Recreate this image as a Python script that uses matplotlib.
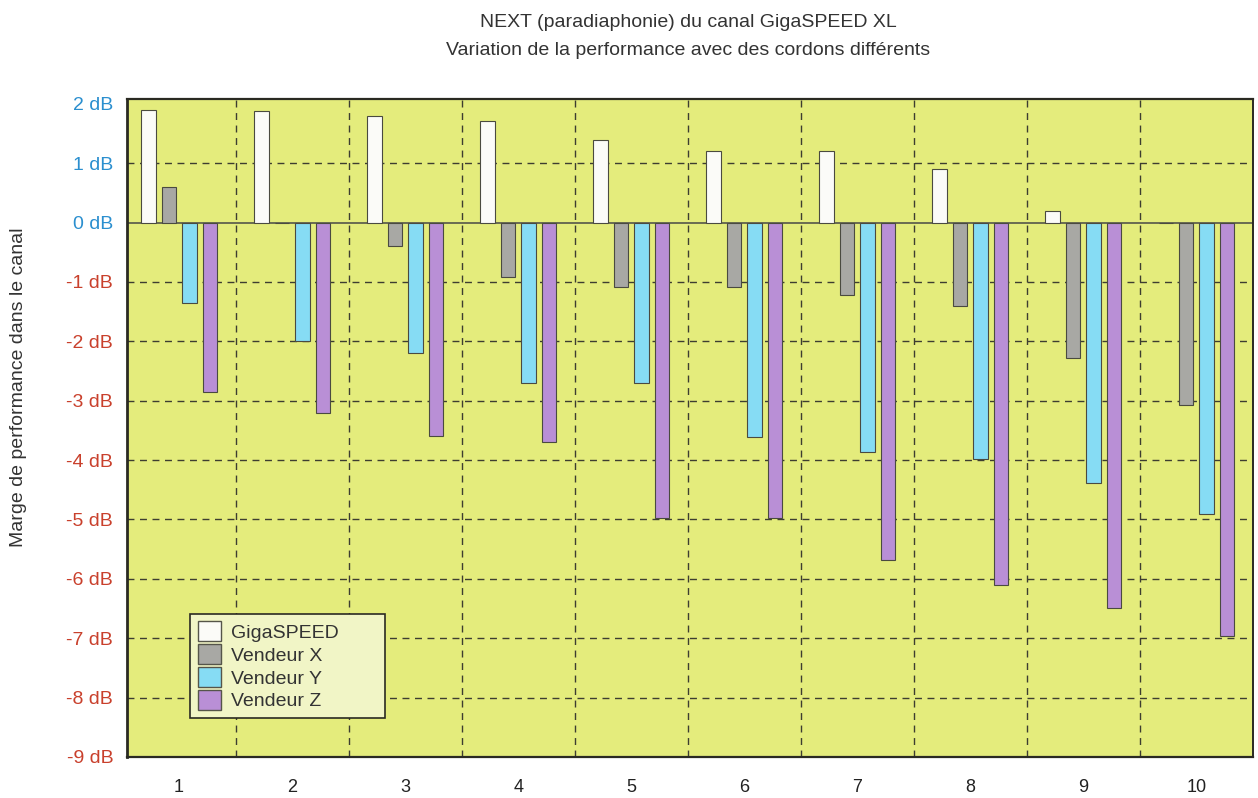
import numpy as np
import matplotlib.pyplot as plt
from matplotlib.patches import Patch

plt.rcParams['font.family'] = ['Liberation Sans', 'DejaVu Sans']

# data (dB)
groups = [1, 2, 3, 4, 5, 6, 7, 8, 9, 10]
gigaspeed = [1.90, 1.88, 1.80, 1.71, 1.39, 1.20, 1.21, 0.90, 0.20, 0.0]
vendeur_x = [0.60, 0.0, -0.40, -0.91, -1.08, -1.08, -1.22, -1.40, -2.28, -3.08]
vendeur_y = [-1.35, -1.99, -2.19, -2.71, -2.70, -3.61, -3.87, -3.98, -4.39, -4.90]
vendeur_z = [-2.86, -3.20, -3.59, -3.70, -4.98, -4.98, -5.68, -6.10, -6.49, -6.97]
series_names = ['GigaSPEED', 'Vendeur X', 'Vendeur Y', 'Vendeur Z']
colors = ['#fbfbf8', '#a8a8a4', '#86dcf4', '#b98fd6']
yticks = [2, 1, 0, -1, -2, -3, -4, -5, -6, -7, -8, -9]

fig = plt.figure(figsize=(12.58, 7.98), dpi=100)
ax = fig.add_axes([0.101, 0.0514, 0.895, 0.8245])
ax.set_facecolor('#e4ec7c')

x = np.array(groups, dtype=float)
pitch = 0.181
width = 0.128
all_series = [gigaspeed, vendeur_x, vendeur_y, vendeur_z]
for i, vals in enumerate(all_series):
    ax.bar(x + (i - 1.5) * pitch, vals, width, color=colors[i],
           edgecolor='#4a4a40', linewidth=0.8, zorder=3)

# grid
for yv in yticks:
    if yv in (0, -9, 2):
        continue
    ax.axhline(yv, color='#3d3d30', lw=1.0, ls=(0, (5, 4)), zorder=1)
for xv in np.arange(1.5, 10, 1):
    ax.axvline(xv, color='#3d3d30', lw=1.0, ls=(0, (5, 4)), zorder=1)
ax.axhline(0, color='#55554a', lw=1.2, zorder=2)

ax.set_xlim(0.54, 10.5)
ax.set_ylim(-9, 2.08)
ax.set_xticks(x)
ax.set_xticklabels([str(g) for g in groups], fontsize=13, color='#222222')
ax.tick_params(axis='x', length=0, pad=16)
ax.set_yticks(yticks)
ax.set_yticklabels([f'{v} dB' for v in yticks], fontsize=14)
ax.tick_params(axis='y', length=0, pad=10)
for lab, v in zip(ax.get_yticklabels(), yticks):
    lab.set_color('#2b8fcf' if v >= 0 else '#c9402c')

for side in ['left', 'top', 'bottom', 'right']:
    ax.spines[side].set_color('#2a2a22')
ax.spines['left'].set_linewidth(2.0)
ax.spines['top'].set_linewidth(1.6)
ax.spines['bottom'].set_linewidth(1.6)
ax.spines['right'].set_linewidth(1.4)

handles = [Patch(facecolor=c, edgecolor='#55554a', label=n) for c, n in zip(colors, series_names)]
leg = ax.legend(handles=handles, loc='upper left', mode='expand',
                bbox_to_anchor=(0.056, 0.06, 0.173, 0.158),
                fontsize=14, frameon=True, fancybox=False, handlelength=1.2,
                handleheight=1.2, handletextpad=0.5, labelspacing=0.12,
                borderpad=0.4, borderaxespad=0)
leg.get_frame().set_facecolor('#f1f5c6')
leg.get_frame().set_edgecolor('#2a2a22')
leg.get_frame().set_linewidth(1.2)
leg.get_frame().set_alpha(1)
for t in leg.get_texts():
    t.set_color('#333333')
leg.set_zorder(5)

fig.text(0.547, 0.972, 'NEXT (paradiaphonie) du canal GigaSPEED XL',
         ha='center', va='center', fontsize=14, color='#333333')
fig.text(0.547, 0.937, 'Variation de la performance avec des cordons différents',
         ha='center', va='center', fontsize=14, color='#333333')
fig.text(0.0145, 0.515, 'Marge de performance dans le canal', rotation=90,
         ha='center', va='center', fontsize=14, color='#333333')

fig.savefig('out.png', dpi=100)
